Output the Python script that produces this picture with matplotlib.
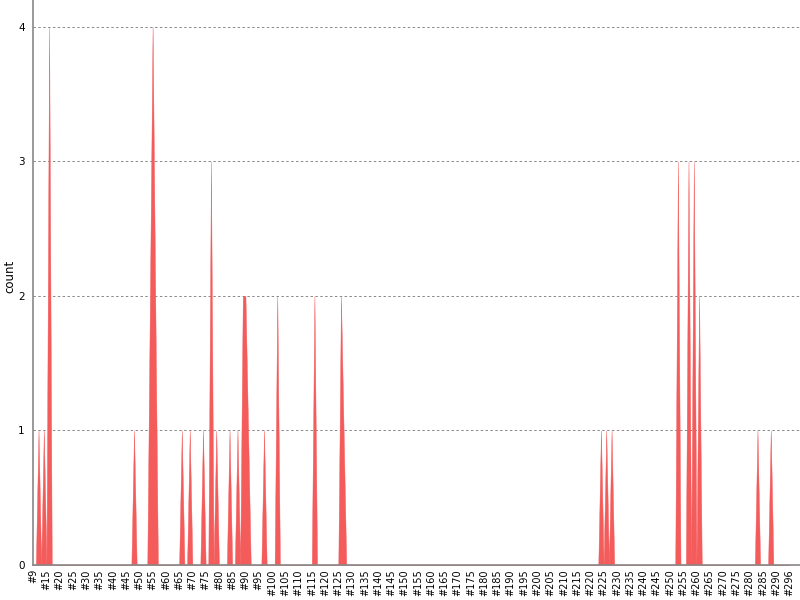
import numpy as np
import matplotlib
matplotlib.use("Agg")
from matplotlib import pyplot as plt

# category ids shown on the x axis (#10 and #293 are not in the data)
category_ids = [9] + list(range(11, 293)) + list(range(294, 297))
# only the non-zero counts, everything else is 0
spike_ids = [12, 14, 16, 48, 54, 55, 56, 66, 69, 74, 77, 79, 84, 87, 89, 90, 91,
             97, 102, 116, 126, 127, 224, 226, 228, 253, 257, 259, 261, 283, 288]
spike_counts = [1, 1, 4, 1, 2, 4, 2, 1, 1, 1, 3, 1, 1, 1, 2, 2, 1,
                1, 2, 2, 2, 1, 1, 1, 1, 3, 3, 3, 2, 1, 1]

labels = ['#%d' % c for c in category_ids]
counts = [0] * len(category_ids)
for cid, cnt in zip(spike_ids, spike_counts):
    counts[category_ids.index(cid)] = cnt

x = np.arange(len(labels))
y = np.array(counts)

fig = plt.figure(figsize=(8, 6), dpi=100)
ax = fig.add_axes([33.2 / 800, 35 / 600, 1 - 33.2 / 800, 565 / 600])

red = '#f45b5b'
ax.fill_between(x, 0, y, color=red, linewidth=0.3, edgecolor=red)

ax.set_xlim(0, len(labels) - 1 + 4.03)
ax.set_ylim(0, 4.2)

ax.set_yticks([0, 1, 2, 3, 4])
ax.set_yticklabels(['0', '1', '2', '3', '4'], fontsize=7.5)
ticks = list(range(0, len(labels), 5))
ax.set_xticks(ticks)
ax.set_xticklabels([labels[i] for i in ticks], rotation=90, fontsize=7)
ax.tick_params(axis='both', length=0)
ax.tick_params(axis='x', pad=3)
ax.tick_params(axis='y', pad=6)

for v in [1, 2, 3, 4]:
    ax.axhline(v, color='#888888', linewidth=0.7, linestyle=(0, (2.5, 2.5)), zorder=0)

for s in ['top', 'right']:
    ax.spines[s].set_visible(False)
for s in ['left', 'bottom']:
    ax.spines[s].set_color('#888888')
    ax.spines[s].set_linewidth(1.2)

fig.text(10 / 800, 1 - 276 / 600, 'count', rotation=90, fontsize=8.5,
         ha='center', va='center')

fig.savefig('out.png', dpi=100)
